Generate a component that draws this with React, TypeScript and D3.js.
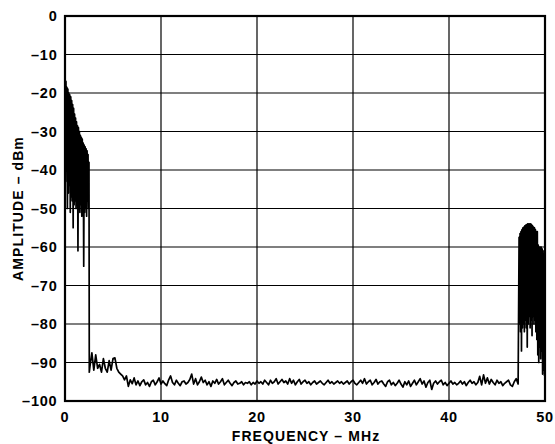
import React from "react";
import * as d3 from "d3";

const yTicks = [0, -10, -20, -30, -40, -50, -60, -70, -80, -90, -100];
const xTicks = [0, 10, 20, 30, 40, 50];

// Low-frequency burst: [MHz, dBm]
const burstLow: [number, number][] = [
  [0.0, -15.5], [0.05, -43], [0.1, -17], [0.15, -40], [0.2, -18.5], [0.25, -50],
  [0.3, -19], [0.35, -46], [0.4, -20], [0.45, -44], [0.5, -20.5], [0.55, -51],
  [0.6, -21], [0.65, -47], [0.7, -22], [0.75, -48], [0.8, -23], [0.85, -55],
  [0.9, -24], [0.95, -49], [1.0, -25.5], [1.05, -48], [1.1, -26.5], [1.15, -50],
  [1.2, -27.5], [1.25, -49], [1.3, -28.5], [1.35, -61], [1.4, -29], [1.45, -50],
  [1.5, -30], [1.55, -51], [1.6, -31], [1.65, -49], [1.7, -31.5], [1.75, -52],
  [1.8, -32], [1.85, -50], [1.9, -33], [1.95, -65], [2.0, -33.5], [2.05, -51],
  [2.1, -34], [2.15, -50], [2.2, -34.5], [2.25, -52], [2.3, -35], [2.35, -48],
  [2.4, -36], [2.45, -50], [2.5, -38], [2.53, -92.5],
];

// Noise floor, sampled every 0.2 MHz from 2.6 MHz
const floorStart = 2.6;
const floorStep = 0.2;
const floorValues = [
  -91, -87.5, -92, -88, -91.5, -90.5, -92.5, -89, -91.5, -92.5, -89.5, -92, -89, -88.8, -91.5, -92.5, -93, -93.5, -94.5, -93.5, -96.2, -94.5,
  -95.5, -94, -95.8, -94.8, -96, -95, -94.5, -95.8, -95.2, -96.2,
  -95, -94.6, -95.8, -95, -94, -95.6, -94.8, -95.5, -96, -94.5,
  -93.5, -95.2, -95.8, -94.6, -95.4, -96, -95, -94.8, -95.6, -95.2,
  -94.4, -93, -95.6, -94.2, -95.8, -95, -93.8, -95.2, -94.6, -95.8,
  -95, -96.2, -94.8, -95.4, -94.4, -95.6, -95, -94.2, -95.8, -95.2,
  -94.6, -95.4, -96, -95.2, -94.8, -95.6, -95.4, -95, -95.8, -95.2,
  -95.4, -95, -95.8, -95.2, -95.6, -94.8, -95.4, -95, -95.6, -94.6,
  -95.2, -95.8, -94.6, -95.4, -95, -94.2, -95.6, -95, -94.4, -95.2,
  -94.8, -95.6, -94.2, -95.4, -94.6, -95.8, -95, -94.4, -95.6, -95,
  -94.6, -95.4, -95, -95.8, -95.2, -94.8, -95.6, -95.2, -94.8, -95.4,
  -95.8, -95.2, -94.6, -95.4, -95, -95.6, -95.2, -94.8, -95.4, -95,
  -95.6, -95.2, -94.8, -95.6, -95, -94.6, -95.4, -95.8, -95.2, -94.6,
  -95.4, -94.2, -95.6, -95, -94.6, -95.8, -95.2, -94.4, -95.6, -95,
  -94.8, -95.6, -96.2, -95, -94.6, -95.8, -95.2, -96, -95.4, -94.6,
  -95.6, -96.4, -95, -95.8, -94.8, -96.2, -95.4, -94.6, -95.8, -95,
  -94.2, -95.6, -94.8, -96.4, -95.2, -94.6, -97, -95.4, -94.8, -95.6,
  -95, -94.6, -95.8, -95.2, -96, -95.4, -94.8, -95.6, -95.2, -95.8,
  -95.4, -94.8, -95.6, -95, -96, -95.2, -94.6, -95.4, -95, -95.8,
  -95.2, -93.6, -95.8, -93.2, -95.4, -94, -95.6, -94.4, -95.2, -95.8,
  -94.6, -95.4, -95, -96, -95.4, -95, -94.6, -95.8, -96.2, -95,
  -94.2, -95.6,
];

// High-frequency burst: [MHz, dBm]
const burstHigh: [number, number][] = [
  [47.3, -57.5], [47.35, -80], [47.4, -56.5], [47.45, -82], [47.5, -56], [47.55, -87],
  [47.6, -55.5], [47.65, -81], [47.7, -55], [47.75, -80], [47.8, -54.8], [47.85, -82],
  [47.9, -54.5], [47.95, -79], [48.0, -54.3], [48.05, -81], [48.1, -54.2], [48.15, -86],
  [48.2, -54], [48.25, -80], [48.3, -54], [48.35, -78], [48.4, -54], [48.45, -81],
  [48.5, -54], [48.55, -79], [48.6, -54.2], [48.65, -83], [48.7, -54.5], [48.75, -78],
  [48.8, -54.8], [48.85, -80], [48.9, -55], [48.95, -79], [49.0, -55.5], [49.05, -82],
  [49.1, -56], [49.15, -84], [49.2, -56], [49.25, -88], [49.3, -59.5], [49.35, -90],
  [49.4, -60], [49.45, -86], [49.5, -60], [49.55, -89], [49.6, -60], [49.65, -87],
  [49.7, -60.5], [49.75, -93], [49.8, -61], [49.85, -92], [49.9, -62], [49.95, -93.5],
];

const W = 555;
const H = 444;
const left = 65;
const right = 545;
const top = 16;
const bottom = 401;

export default function App() {
  const x = d3.scaleLinear().domain([0, 50]).range([left, right]);
  const y = d3.scaleLinear().domain([0, -100]).range([top, bottom]);

  const floorPts: [number, number][] = floorValues.map((v, i) => [floorStart + i * floorStep, v]);
  const pts: [number, number][] = [...burstLow, ...floorPts, ...burstHigh];
  const line = d3
    .line<[number, number]>()
    .x((d) => x(d[0]))
    .y((d) => y(d[1]));

  const font = "'Liberation Sans', Arial, Helvetica, sans-serif";

  return (
    <svg width={W} height={H} style={{ position: "absolute", left: 0, top: 0, background: "#fff" }}>
      {yTicks.map((t) => (
        <line key={"gy" + t} x1={left} x2={right} y1={y(t)} y2={y(t)} stroke="#000" strokeWidth={1.2} />
      ))}
      {xTicks.map((t) => (
        <line key={"gx" + t} x1={x(t)} x2={x(t)} y1={top} y2={bottom} stroke="#000" strokeWidth={1.2} />
      ))}
      <path d={line(pts) || ""} fill="none" stroke="#000" strokeWidth={1.7} strokeLinejoin="round" />
      <rect x={left} y={top} width={right - left} height={bottom - top} fill="none" stroke="#000" strokeWidth={2.2} />
      {yTicks.map((t) => (
        <text
          key={"ly" + t}
          x={57.5}
          y={y(t)}
          dy="0.36em"
          textAnchor="end"
          fontFamily={font}
          fontWeight="bold"
          fontSize={14.5}
          letterSpacing={0.8}
        >
          {t === 0 ? "0" : "\u2013" + Math.abs(t)}
        </text>
      ))}
      {xTicks.map((t) => (
        <text
          key={"lx" + t}
          x={x(t)}
          y={421.5}
          textAnchor="middle"
          fontFamily={font}
          fontWeight="bold"
          fontSize={14.5}
          letterSpacing={0.8}
        >
          {t}
        </text>
      ))}
      <text
        x={(left + right) / 2 + 1}
        y={440.5}
        textAnchor="middle"
        fontFamily={font}
        fontWeight="bold"
        fontSize={14}
        letterSpacing={1.1}
      >
        FREQUENCY – MHz
      </text>
      <text
        transform={`translate(23, ${(top + bottom) / 2}) rotate(-90)`}
        textAnchor="middle"
        fontFamily={font}
        fontWeight="bold"
        fontSize={14}
        letterSpacing={1.1}
      >
        AMPLITUDE – dBm
      </text>
    </svg>
  );
}
